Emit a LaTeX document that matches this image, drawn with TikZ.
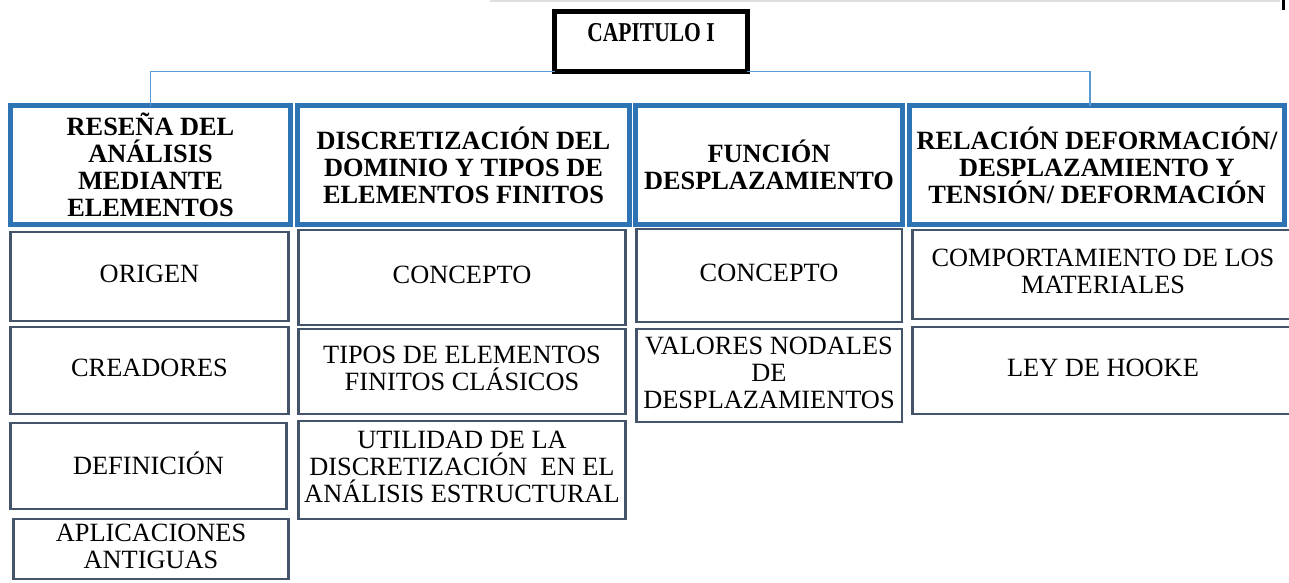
\documentclass[tikz,border=0pt]{standalone}
\usepackage{fontspec}
\setmainfont{Liberation Serif}
\definecolor{hdblue}{HTML}{2E74B5}
\definecolor{itgray}{HTML}{44546A}
\definecolor{lnblue}{HTML}{5B9BD5}

\begin{document}
\begin{tikzpicture}[x=0.02cm, y=-0.02cm,
  capbox/.style={draw=black, line width=2.8pt, outer sep=0, inner sep=0,
    text height=10pt, text depth=10pt, minimum width=3.86cm, minimum height=1.2cm},
  headbox/.style={draw=hdblue, line width=2.8pt, outer sep=0, inner sep=0, align=center,
    font=\fontsize{15}{15.4}\selectfont\bfseries, minimum height=2.38cm},
  itembox/.style={draw=itgray, line width=1.4pt, outer sep=0, inner sep=0, align=center,
    font=\fontsize{15}{15.4}\selectfont, text depth=3.5pt},
  link/.style={draw=lnblue, line width=0.6pt}]
\useasboundingbox (0,0) rectangle (1289,582);
\draw[gray!25, line width=0.8pt] (490,1) -- (1280,1);
\fill (1282,0) rectangle (1285,10);

\node[capbox] (cap) at (651,41.5) {\fontsize{15.5}{17}\selectfont\bfseries\scalebox{0.79}[1]{CAPITULO I}};

\node[headbox, minimum width=5.6cm] (resena) at (150.5,165) {RESEÑA DEL\\ANÁLISIS\\MEDIANTE\\ELEMENTOS};
\node[headbox, minimum width=6.64cm] (discret) at (463.5,165) {DISCRETIZACIÓN DEL\\DOMINIO Y TIPOS DE\\ELEMENTOS FINITOS};
\node[headbox, minimum width=5.34cm] (funcion) at (769,165) {FUNCIÓN\\DESPLAZAMIENTO};
\node[headbox, minimum width=7.5cm] (relacion) at (1097,165) {RELACIÓN DEFORMACIÓN/\\DESPLAZAMIENTO Y\\TENSIÓN/ DEFORMACIÓN};

\draw[link] (resena.north) |- (cap.south west);
\draw[link] (cap.south east) -| ([xshift=-0.14cm]relacion.north);

% columna 1
\node[itembox, minimum width=5.57cm, minimum height=1.77cm] (origen) at (149.5,276.5) {ORIGEN};
\node[itembox, minimum width=5.57cm, minimum height=1.73cm] (creadores) at (149.5,370.5) {CREADORES};
\node[itembox, minimum width=5.53cm, minimum height=1.71cm] (definicion) at (148.5,466) {DEFINICIÓN};
\node[itembox, minimum width=5.51cm, minimum height=1.19cm] (aplicaciones) at (151,549) {APLICACIONES\\ANTIGUAS};

% columna 2
\node[itembox, minimum width=6.55cm, minimum height=1.89cm] (concepto) at (462,277.5) {CONCEPTO};
\node[itembox, minimum width=6.55cm, minimum height=1.69cm] (tipos) at (462,371.5) {TIPOS DE ELEMENTOS\\FINITOS CLÁSICOS};
\node[itembox, minimum width=6.55cm, minimum height=1.95cm] (utilidad) at (462,470) {UTILIDAD DE LA\\DISCRETIZACIÓN\ \ EN EL\\ANÁLISIS ESTRUCTURAL};

% columna 3
\node[itembox, minimum width=5.31cm, minimum height=1.85cm] (conceptob) at (769,275.5) {CONCEPTO};
\node[itembox, minimum width=5.31cm, minimum height=1.85cm] (valores) at (769,375.5) {VALORES NODALES\\DE\\DESPLAZAMIENTOS};

% columna 4
\node[itembox, minimum width=7.63cm, minimum height=1.77cm] (comport) at (1103,274.5) {COMPORTAMIENTO DE LOS\\MATERIALES};
\node[itembox, minimum width=7.63cm, minimum height=1.73cm] (hooke) at (1103,370.5) {LEY DE HOOKE};
\end{tikzpicture}
\end{document}
